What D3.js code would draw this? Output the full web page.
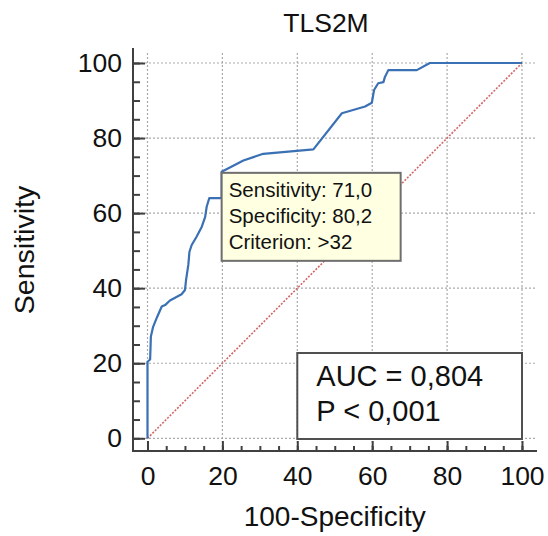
<!DOCTYPE html>
<html>
<head>
<meta charset="utf-8">
<script src="https://cdn.jsdelivr.net/npm/d3@7"></script>
<style>
  html, body { margin: 0; padding: 0; background: #fff; }
  svg { display: block; font-family: "Liberation Sans", Arial, sans-serif; }
</style>
</head>
<body>
<svg id="chart" width="548" height="536"></svg>
<script>
"use strict";

// ROC curve: 100-Specificity vs Sensitivity
const fpr = [0, 0, 0.7, 0.9, 1.5, 2.6, 3.8, 4.7, 6.0, 9.1, 10.0, 10.3, 10.9, 11.2, 11.8, 13.1, 14.5, 15.4,
  15.8, 16.5, 19.8, 19.8, 25.6, 30.9, 44.3, 51.9, 58.1, 59.9, 60.5, 61.6, 63.0, 63.4, 64.3, 71.9, 75.4, 100];
const sens = [0, 20.4, 21.0, 27.1, 29.7, 32.4, 35.1, 35.5, 36.7, 38.4, 39.5, 42.2, 46.2, 49.7, 51.5, 53.7, 56.4, 59.0,
  61.7, 64.0, 64.0, 71.0, 74.0, 75.8, 77.0, 86.6, 88.4, 89.4, 92.8, 94.6, 94.9, 96.3, 98.1, 98.1, 100, 100];

const majorTicks = [0, 20, 40, 60, 80, 100];
const minorTicks = d3.range(0, 101, 5);

const criterion = { fpr: 19.8, sens: 71.0 };
const tipLines = ["Sensitivity: 71,0", "Specificity: 80,2", "Criterion: >32"];
const aucLines = ["AUC = 0,804", "P < 0,001"];

const title = "TLS2M";
const xTitle = "100-Specificity";
const yTitle = "Sensitivity";

const svg = d3.select("#chart");

// frame of the plot (axis lines sit a little outside the 0..100 range)
const frame = { left: 133, right: 537, top: 48, bottom: 451 };

const x = d3.scaleLinear().domain([0, 100]).range([147.5, 522]);
const y = d3.scaleLinear().domain([0, 100]).range([438.3, 63]);

// grid
const grid = svg.append("g")
  .attr("stroke", "#aaaaaa")
  .attr("stroke-width", 1.2)
  .attr("stroke-dasharray", "2,2");

grid.selectAll("line.vx")
  .data(majorTicks)
  .join("line")
  .attr("class", "vx")
  .attr("x1", (d) => x(d)).attr("x2", (d) => x(d))
  .attr("y1", frame.top + 5).attr("y2", frame.bottom);

grid.selectAll("line.hy")
  .data(majorTicks)
  .join("line")
  .attr("class", "hy")
  .attr("x1", frame.left).attr("x2", frame.right)
  .attr("y1", (d) => y(d)).attr("y2", (d) => y(d));

// diagonal reference line
svg.append("line")
  .attr("x1", x(0)).attr("y1", y(0))
  .attr("x2", x(100)).attr("y2", y(100))
  .attr("stroke", "#d26565")
  .attr("stroke-width", 1.6)
  .attr("stroke-dasharray", "2,1.5");

// axes
const xAxis = svg.append("g")
  .attr("transform", `translate(0,${frame.bottom})`)
  .call(d3.axisBottom(x).tickValues(majorTicks).tickSize(-10).tickPadding(15));
const xMinor = svg.append("g")
  .attr("transform", `translate(0,${frame.bottom})`)
  .call(d3.axisBottom(x).tickValues(minorTicks).tickSize(-5).tickFormat(""));

const yAxis = svg.append("g")
  .attr("transform", `translate(${frame.left},0)`)
  .call(d3.axisLeft(y).tickValues(majorTicks).tickSize(-12).tickPadding(11));
const yMinor = svg.append("g")
  .attr("transform", `translate(${frame.left},0)`)
  .call(d3.axisLeft(y).tickValues(minorTicks).tickSize(-7).tickFormat(""));

[xAxis, xMinor, yAxis, yMinor].forEach((g) => {
  g.select(".domain").remove();
  g.selectAll("line").attr("stroke", "#404040").attr("stroke-width", 2);
  g.selectAll("text")
    .attr("fill", "#111")
    .attr("font-size", 26.5)
    .attr("font-family", "Liberation Sans, Arial, sans-serif");
});

svg.append("path")
  .attr("d", `M${frame.left},${frame.top}V${frame.bottom}H${frame.right}`)
  .attr("fill", "none")
  .attr("stroke", "#404040")
  .attr("stroke-width", 2);

// ROC curve
const rocLine = d3.line()
  .x((d) => x(d[0]))
  .y((d) => y(d[1]));

svg.append("path")
  .datum(d3.zip(fpr, sens))
  .attr("d", rocLine)
  .attr("fill", "none")
  .attr("stroke", "#3a70b4")
  .attr("stroke-width", 2.2)
  .attr("stroke-linejoin", "round");

// titles
svg.append("text")
  .attr("x", 326).attr("y", 32)
  .attr("text-anchor", "middle")
  .attr("font-size", 26.5)
  .attr("fill", "#111")
  .text(title);

svg.append("text")
  .attr("x", x(50)).attr("y", 526)
  .attr("text-anchor", "middle")
  .attr("font-size", 28)
  .attr("fill", "#111")
  .text(xTitle);

svg.append("text")
  .attr("transform", `translate(34,250) rotate(-90)`)
  .attr("text-anchor", "middle")
  .attr("font-size", 28.5)
  .attr("fill", "#111")
  .text(yTitle);

// criterion tooltip, anchored at the cut-off point
const tip = svg.append("g")
  .attr("transform", `translate(${x(criterion.fpr)},${y(criterion.sens) + 1})`);

tip.append("rect")
  .attr("width", 179).attr("height", 88)
  .attr("fill", "#ffffe1")
  .attr("stroke", "#6e6e6e")
  .attr("stroke-width", 2);

tip.selectAll("text")
  .data(tipLines)
  .join("text")
  .attr("x", 7)
  .attr("y", (d, i) => 24.5 + i * 26)
  .attr("font-size", 20.5)
  .attr("fill", "#111")
  .text((d) => d);

// AUC box
const aucBox = svg.append("g")
  .attr("transform", `translate(${x(40)},353)`);

aucBox.append("rect")
  .attr("width", x(100) - x(40)).attr("height", 86)
  .attr("fill", "#fff")
  .attr("stroke", "#505050")
  .attr("stroke-width", 2);

aucBox.selectAll("text")
  .data(aucLines)
  .join("text")
  .attr("x", 19)
  .attr("y", (d, i) => 33 + i * 35)
  .attr("font-size", 29)
  .attr("fill", "#111")
  .text((d) => d);
</script>
</body>
</html>
